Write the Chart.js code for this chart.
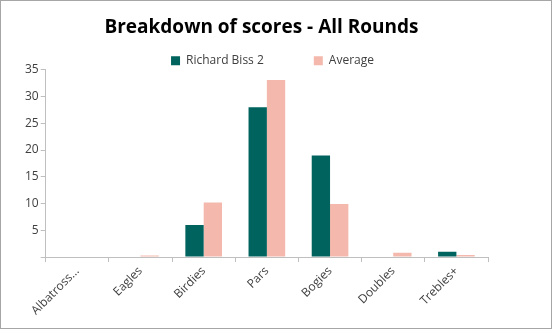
<!DOCTYPE html>
<html>
<head>
<meta charset="utf-8">
<script src="https://cdn.jsdelivr.net/npm/chart.js@4"></script>
<style>
    html, body { margin: 0; padding: 0; background: #fff; }
    #wrapper {
        width: 552px;
        height: 329px;
        box-sizing: border-box;
        border: 1px solid #a6a6a6;
        background: #fff;
    }
</style>
</head>
<body>
<div id="wrapper"><canvas id="graph" width="550" height="327"></canvas></div>
<script>
const categories = ["Albatross...", "Eagles", "Birdies", "Pars", "Bogies", "Doubles", "Trebles+"];
const player_scores = [0, 0, 6, 28, 19, 0, 1];
const average_scores = [0, 0.3, 10.2, 33.1, 9.9, 0.8, 0.4];
const y_ticks = [5, 10, 15, 20, 25, 30, 35];

const font_family = "'Open Sans', 'Noto Sans', sans-serif";
const axis_gray = "#bfbfbf";
const legend_gap = 50;

/* legend padding is used both for the gap between items and above them,
   so shrink the box and lift it back up under the title */
const legendTrim = {
    id: "legendTrim",
    beforeLayout(chart) {
        const legend = chart.legend;
        if (!legend || legend._trimmed) return;
        const fit = legend.fit;
        legend.fit = function () {
            fit.call(this);
            this.height -= 41;
        };
        legend._trimmed = true;
    },
    afterLayout(chart) {
        chart.legend.top -= 34;
        chart.legend.left += 17;
        chart.legend.right += 17;
        chart.titleBlock.left += 6;
        chart.titleBlock.right += 6;
    },
};

const ctx = document.getElementById("graph");
const graph = new Chart(ctx, {
    type: "bar",
    data: {
        labels: categories,
        datasets: [
            {
                label: "Richard Biss 2",
                data: player_scores,
                backgroundColor: "#00635e",
                borderWidth: 0,
                categoryPercentage: 0.58,
                barPercentage: 1.0,
            },
            {
                label: "Average",
                data: average_scores,
                backgroundColor: "#f4b9ac",
                borderWidth: 0,
                categoryPercentage: 0.58,
                barPercentage: 1.0,
            },
        ],
    },
    plugins: [legendTrim],
    options: {
        responsive: false,
        animation: false,
        layout: {
            padding: { left: 22, right: 63, top: 6, bottom: 8 },
        },
        plugins: {
            title: {
                display: true,
                text: "Breakdown of scores - All Rounds",
                color: "#000",
                font: { family: font_family, size: 19, weight: "bold" },
                padding: { top: 9, bottom: 0 },
            },
            legend: {
                position: "top",
                labels: {
                    boxWidth: 9,
                    boxHeight: 9,
                    padding: legend_gap,
                    color: "#404040",
                    font: { family: font_family, size: 12 },
                },
            },
            tooltip: { enabled: false },
        },
        scales: {
            x: {
                grid: {
                    offset: true,
                    drawOnChartArea: false,
                    drawTicks: true,
                    tickLength: 5,
                    color: axis_gray,
                },
                border: { color: axis_gray },
                ticks: {
                    maxRotation: 45,
                    minRotation: 45,
                    color: "#404040",
                    padding: 2,
                    font: { family: font_family, size: 12 },
                },
            },
            y: {
                min: 0,
                max: 35,
                grid: {
                    drawOnChartArea: false,
                    drawTicks: true,
                    tickLength: 5,
                    color: axis_gray,
                },
                border: { color: axis_gray },
                afterBuildTicks: (axis) => {
                    axis.ticks = [0].concat(y_ticks).map((v) => ({ value: v }));
                },
                ticks: {
                    color: "#404040",
                    padding: 2,
                    font: { family: font_family, size: 12 },
                    callback: (v) => (y_ticks.includes(v) ? v : ""),
                },
            },
        },
    },
});
</script>
</body>
</html>
